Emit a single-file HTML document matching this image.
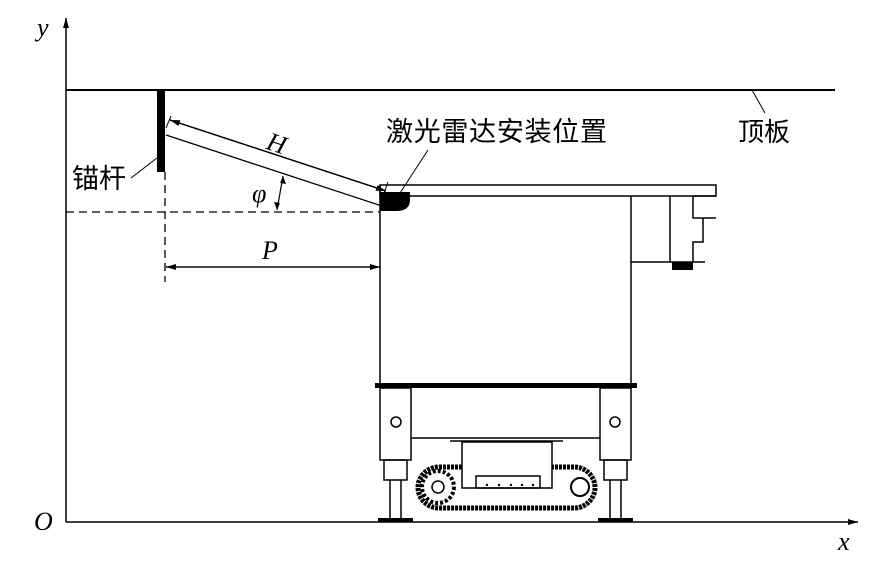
<!DOCTYPE html>
<html><head><meta charset="utf-8"><style>body{margin:0;background:#fff}svg{display:block}</style></head><body>
<svg width="879" height="570" viewBox="0 0 879 570" xmlns="http://www.w3.org/2000/svg" font-family="Liberation Serif, 'Noto Serif CJK SC', serif">
<defs><marker id="a" markerWidth="10" markerHeight="6" refX="10" refY="3" orient="auto" markerUnits="userSpaceOnUse"><path d="M0,0 L10,3 L0,6z" fill="#000"/></marker></defs>
<g stroke="#000" fill="none" stroke-width="1.5">
<line x1="66" y1="522" x2="66" y2="18" marker-end="url(#a)"/>
<line x1="66" y1="522" x2="858" y2="522" marker-end="url(#a)"/>
<line x1="66" y1="90" x2="835" y2="90" stroke-width="2"/>
<line x1="752" y1="90" x2="765" y2="113" stroke-width="1"/>
<rect x="157" y="90" width="8" height="82" fill="#000" stroke="none"/>
<line x1="165" y1="172" x2="165" y2="282" stroke-dasharray="8,5" stroke-width="1.3"/>
<line x1="66" y1="212" x2="380" y2="212" stroke-dasharray="8,5" stroke-width="1.3"/>
<line x1="157" y1="158" x2="131" y2="178" stroke-width="1"/>
<line x1="166" y1="135" x2="382" y2="206" stroke-width="1.3"/>
<line x1="170" y1="120" x2="386" y2="191" stroke-width="1.3" marker-end="url(#a)"/>
<line x1="386" y1="191" x2="170" y2="120" stroke-width="1.3" marker-end="url(#a)"/>
<line x1="166" y1="128" x2="171" y2="116" stroke-width="1"/>
<path d="M283 176 L277 210" stroke-width="1.2"/>
<path d="M277 210 l-3 -8 l6 1z" fill="#000" stroke="none"/>
<path d="M283 176 l3 8 l-6 -1z" fill="#000" stroke="none"/>
<line x1="166" y1="267" x2="380" y2="267" stroke-width="1.2" marker-end="url(#a)"/>
<line x1="380" y1="267" x2="166" y2="267" stroke-width="1.2" marker-end="url(#a)"/>
<line x1="400" y1="193" x2="428" y2="150" stroke-width="1"/>
<line x1="384" y1="193" x2="388" y2="182" stroke-width="1"/>
<rect x="380" y="185" width="336" height="11"/>
<line x1="380" y1="185" x2="380" y2="385"/>
<line x1="631" y1="196" x2="631" y2="385"/>
<line x1="670" y1="196" x2="670" y2="262"/>
<polyline points="716,196 693,196 693,218 716,218"/>
<polyline points="703,218 703,242 693,242 693,262"/>
<line x1="631" y1="262" x2="705" y2="262"/>
<rect x="672" y="262" width="21" height="8" fill="#000" stroke="none"/>
<path d="M380 192 H410 V200 Q410 211 396 211 H380z" fill="#000" stroke="none"/>
<rect x="375" y="383" width="262" height="5" fill="#000" stroke="none"/>
<rect x="380" y="388" width="31" height="72"/>
<rect x="600" y="388" width="31" height="72"/>
<line x1="411" y1="438" x2="600" y2="438"/>
<circle cx="396" cy="422" r="5"/><circle cx="615" cy="422" r="5"/>
<rect x="384" y="460" width="23" height="20"/><rect x="604" y="460" width="23" height="20"/>
<line x1="390" y1="480" x2="390" y2="518"/><line x1="401" y1="480" x2="401" y2="518"/>
<line x1="610" y1="480" x2="610" y2="518"/><line x1="621" y1="480" x2="621" y2="518"/>
<rect x="378" y="518" width="35" height="4" fill="#000" stroke="none"/>
<rect x="598" y="518" width="35" height="4" fill="#000" stroke="none"/>
<line x1="450" y1="441" x2="563" y2="441"/>
<rect x="418" y="467" width="177" height="41" rx="21" stroke-width="5" stroke-dasharray="3,1"/>
<rect x="462" y="442" width="90" height="46" fill="#fff"/>
<rect x="476" y="476" width="64" height="12"/>
<circle cx="438" cy="487" r="16" stroke-width="4" stroke-dasharray="3,2"/>
<circle cx="438" cy="487" r="6" fill="#fff"/>
<circle cx="580" cy="487" r="9" stroke-width="2"/>
</g>
<g fill="#000"><circle cx="487" cy="485" r="1.2"/><circle cx="499" cy="485" r="1.2"/><circle cx="511" cy="485" r="1.2"/><circle cx="522" cy="485" r="1.2"/><circle cx="533" cy="485" r="1.2"/></g>
<g font-size="26" fill="#000">
<text x="37" y="36" font-style="italic">y</text>
<text x="34" y="530" font-style="italic">O</text>
<text x="838" y="550" font-style="italic">x</text>
<text x="267" y="153" font-style="italic" transform="rotate(18 280 145)">H</text>
<text x="252" y="202" font-style="italic">φ</text>
<text x="262" y="259" font-style="italic">P</text>
<text x="72" y="188" font-family="'Noto Sans CJK SC', sans-serif" font-size="27">锚杆</text>
<text x="386" y="141" font-family="'Noto Sans CJK SC', sans-serif" font-size="27" textLength="221">激光雷达安装位置</text>
<text x="738" y="141" font-family="'Noto Sans CJK SC', sans-serif" font-size="26">顶板</text>
</g>
</svg>
</body></html>
